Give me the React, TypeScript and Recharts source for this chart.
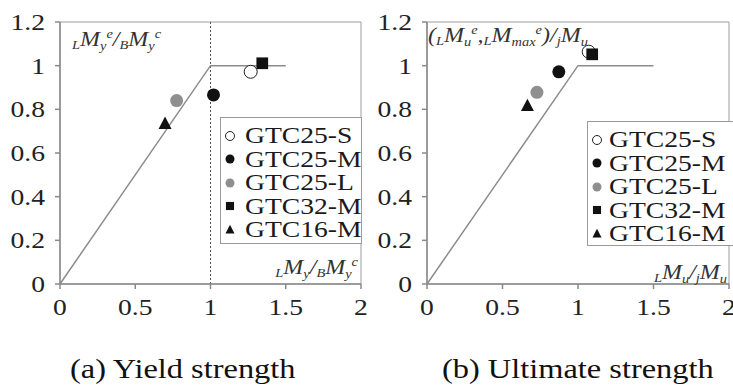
import React from "react";
import {
  ScatterChart, Scatter, XAxis, YAxis, ReferenceLine, ReferenceArea, Legend,
} from "recharts";

const specimens = ["GTC25-S", "GTC25-M", "GTC25-L", "GTC32-M", "GTC16-M"];

// (a) yield strength
const yieldX = [1.267, 1.02, 0.775, 1.344, 0.698];
const yieldY = [0.972, 0.866, 0.84, 1.011, 0.733];

// (b) ultimate strength
const ultX = [1.071, 0.873, 0.728, 1.094, 0.665];
const ultY = [1.064, 0.972, 0.878, 1.052, 0.815];

// design backbone
const backboneX = [0, 1, 1.5];
const backboneY = [0, 1, 1];

const xTicks = [0, 0.5, 1, 1.5, 2];
const yTicks = [0, 0.2, 0.4, 0.6, 0.8, 1, 1.2];

const FONT = "Liberation Serif";
const SX = 1.2; // the figure is stretched sideways
const AXIS = "#8a8a8a";

type Mark = "open" | "black" | "gray" | "square" | "triangle";
const marks: Mark[] = ["open", "black", "gray", "square", "triangle"];

function Marker({ cx, cy, kind, r = 6.5 }: { cx: number; cy: number; kind: Mark; r?: number }) {
  if (kind === "open") return <circle cx={cx} cy={cy} r={r} fill="#fff" stroke="#222" strokeWidth={1} />;
  if (kind === "black") return <circle cx={cx} cy={cy} r={r} fill="#111" />;
  if (kind === "gray") return <circle cx={cx} cy={cy} r={r} fill="#8f8f8f" />;
  if (kind === "square") return <rect x={cx - r * 0.9} y={cy - r * 0.9} width={r * 1.8} height={r * 1.8} fill="#111" />;
  const h = r * 1.9;
  return <polygon points={`${cx},${cy - h * 0.6} ${cx - r},${cy + h * 0.4} ${cx + r},${cy + h * 0.4}`} fill="#111" />;
}

const XTick = (p: any) => (
  <text transform={`translate(${p.x},${p.y}) scale(${SX},1)`} textAnchor="middle" dy="0.71em"
    fontSize={23} style={{ fontFamily: FONT }} fill="#222">{String(p.payload.value)}</text>
);
const YTick = (p: any) => (
  <text transform={`translate(${p.x},${p.y}) scale(${SX},1)`} textAnchor="end" dy="0.35em"
    fontSize={23} style={{ fontFamily: FONT }} fill="#222">{String(p.payload.value)}</text>
);

function LegendBox({ iconGap, pad }: { iconGap: number; pad: number }) {
  return (
    <div style={{ border: "1px solid #9a9a9a", background: "#fff", paddingTop: 6, paddingBottom: 2, height: "100%", boxSizing: "border-box" }}>
      {specimens.map((s, i) => (
        <div key={s} style={{ display: "flex", alignItems: "center", height: 23.5, paddingLeft: pad }}>
          <svg width={12} height={12} style={{ flex: "none" }}>
            <Marker cx={6} cy={6} kind={marks[i]} r={4.5} />
          </svg>
          <span style={{
            marginLeft: iconGap, fontFamily: FONT, fontSize: 23, lineHeight: "23px", color: "#1a1a1a",
            display: "inline-block", transform: `scaleX(${SX})`, transformOrigin: "left center", whiteSpace: "nowrap",
          }}>{s}</span>
        </div>
      ))}
    </div>
  );
}

type Part = { t: string; size: number; shift: number };
function Rich({ x, y, parts, anchor = "start" }: { x: number; y: number; parts: Part[]; anchor?: string }) {
  let prev = 0;
  return (
    <text transform={`translate(${x},${y}) scale(${SX},1)`} textAnchor={anchor}
      style={{ fontFamily: FONT, fontStyle: "italic" }} fill="#333">
      {parts.map((p, i) => {
        const dy = p.shift - prev;
        prev = p.shift;
        return <tspan key={i} dy={dy} fontSize={p.size}>{p.t}</tspan>;
      })}
    </text>
  );
}

const B = 20, S = 12;
const pre = (t: string): Part => ({ t, size: S, shift: 3 });
const main = (t: string): Part => ({ t, size: B, shift: 0 });
const sub = (t: string): Part => ({ t, size: S, shift: 4 });
const sup = (t: string): Part => ({ t, size: S, shift: -8 });

function Panel({ xs, ys, dotted, width, right, legendPos }: { xs: number[]; ys: number[]; dotted: boolean; width: number; right: number; legendPos: any }) {
  const backbone = backboneX.map((x, i) => ({ x, y: backboneY[i] }));
  return (
    <ScatterChart width={width} height={330} margin={{ top: 22, right, bottom: 0, left: 0 }}>
      <XAxis type="number" dataKey="x" domain={[0, 2]} ticks={xTicks} height={46}
        stroke={AXIS} strokeWidth={1.5} tickSize={5} tickMargin={10} tick={XTick} />
      <YAxis type="number" dataKey="y" domain={[0, 1.2]} ticks={yTicks} width={60}
        stroke={AXIS} strokeWidth={1.5} tickSize={5} tickMargin={10} tick={YTick} />
      <ReferenceArea x1={0} x2={2} y1={0} y2={1.2} fill="none" stroke="#9c9c9c" strokeWidth={1} />
      {dotted && <ReferenceLine x={1} stroke="#555" strokeDasharray="2 2" strokeWidth={1} />}
      <Scatter data={backbone} line={{ stroke: "#8c8c8c", strokeWidth: 1.5 }} shape={() => <g />}
        isAnimationActive={false} legendType="none" />
      {specimens.map((s, i) => (
        <Scatter key={s} name={s} data={[{ x: xs[i], y: ys[i] }]} isAnimationActive={false}
          shape={(p: any) => <Marker cx={p.cx} cy={p.cy} kind={marks[i]} />} />
      ))}
      <Legend layout="vertical" align="center" verticalAlign="middle"
        wrapperStyle={{ position: "absolute", ...legendPos }}
        content={() => <LegendBox iconGap={legendPos.gap} pad={legendPos.pad} />} />
    </ScatterChart>
  );
}

export default function App() {
  return (
    <div style={{ position: "absolute", left: 0, top: 0, width: 733, height: 387, background: "#fff", overflow: "hidden" }}>
      <div style={{ position: "absolute", left: 0, top: 0 }}>
        <Panel xs={yieldX} ys={yieldY} dotted width={380} right={19}
          legendPos={{ left: 220, top: 117, width: 142, height: 127, gap: 9, pad: 3 }} />
      </div>
      <div style={{ position: "absolute", left: 367, top: 0 }}>
        <Panel xs={ultX} ys={ultY} dotted={false} width={366} right={4}
          legendPos={{ left: 220, top: 121, width: 150, height: 125, gap: 6, pad: 3 }} />
      </div>
      <svg width={733} height={387} style={{ position: "absolute", left: 0, top: 0, pointerEvents: "none" }}>
        <Rich x={72} y={46} parts={[pre("L"), main("M"), sub("y"), sup("e"), main("/"), pre("B"), main("M"), sub("y"), sup("c")]} />
        <Rich x={358} y={274} anchor="end" parts={[pre("L"), main("M"), sub("y"), main("/"), pre("B"), main("M"), sub("y"), sup("c")]} />
        <Rich x={428} y={42} parts={[main("("), pre("L"), main("M"), sub("u"), sup("e"), main(","), pre("L"), main("M"), sub("max"), sup("e"), main(")/"), pre("j"), main("M"), sub("u")]} />
        <Rich x={727} y={279} anchor="end" parts={[pre("L"), main("M"), sub("u"), main("/"), pre("j"), main("M"), sub("u")]} />
        <text transform={`translate(70,378) scale(${SX},1)`} style={{ fontFamily: FONT }} fontSize={27} fill="#111">(a) Yield strength</text>
        <text transform={`translate(442,378) scale(${SX},1)`} style={{ fontFamily: FONT }} fontSize={27} fill="#111">(b) Ultimate strength</text>
      </svg>
    </div>
  );
}
